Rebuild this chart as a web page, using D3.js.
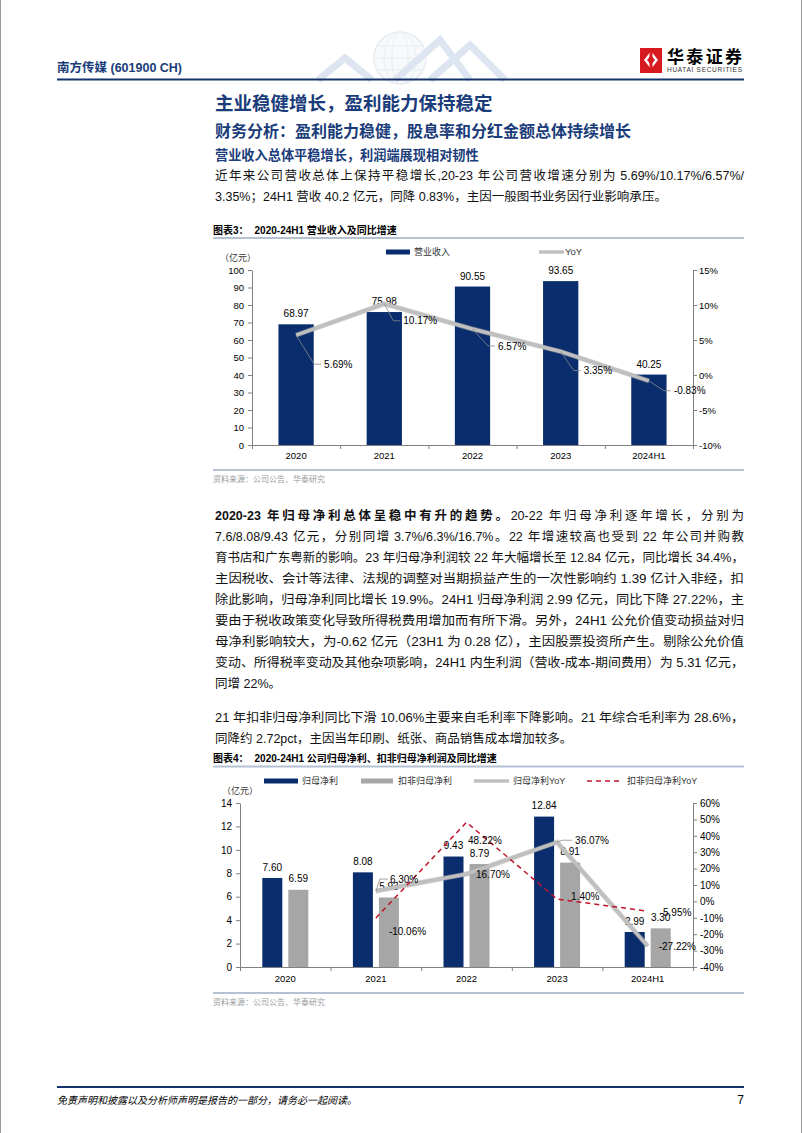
<!DOCTYPE html>
<html>
<head>
<meta charset="utf-8">
<script src="https://cdn.jsdelivr.net/npm/d3@7"></script>
<style>
  body { margin: 0; background: #fff; }
  svg { display: block; }
  text { font-family: 'Liberation Sans', 'Noto Sans CJK SC', sans-serif; }
</style>
</head>
<body>
<svg id="page" width="802" height="1133"></svg>
<script>
// ---------- data ----------
const years = ['2020', '2021', '2022', '2023', '2024H1']

// 图表3
const revenue = [68.97, 75.98, 90.55, 93.65, 40.25]
const revenueYoY = [5.69, 10.17, 6.57, 3.35, -0.83]
const revTicks = [0, 10, 20, 30, 40, 50, 60, 70, 80, 90, 100]
const revYoYTicks = [-10, -5, 0, 5, 10, 15]

// 图表4
const netProfit = [7.60, 8.08, 9.43, 12.84, 2.99]
const deductProfit = [6.59, 5.93, 8.79, 8.91, 3.30]
const netYoY = [null, 6.30, 16.70, 36.07, -27.22]
const deductYoY = [null, -10.06, 48.22, 1.40, -5.95]
const profitTicks = [0, 2, 4, 6, 8, 10, 12, 14]
const profitYoYTicks = [-40, -30, -20, -10, 0, 10, 20, 30, 40, 50, 60]

// texts
const introLines = [
    '近年来公司营收总体上保持平稳增长,20-23 年公司营收增速分别为 5.69%/10.17%/6.57%/',
    '3.35%；24H1 营收 40.2 亿元，同降 0.83%，主因一般图书业务因行业影响承压。'
]
const para2Lead = '2020-23 年归母净利总体呈稳中有升的趋势。'
const para2Lines = [
    '20-22 年归母净利逐年增长，分别为',
    '7.6/8.08/9.43 亿元，分别同增 3.7%/6.3%/16.7%。22 年增速较高也受到 22 年公司并购教',
    '育书店和广东粤新的影响。23 年归母净利润较 22 年大幅增长至 12.84 亿元，同比增长 34.4%，',
    '主因税收、会计等法律、法规的调整对当期损益产生的一次性影响约 1.39 亿计入非经，扣',
    '除此影响，归母净利同比增长 19.9%。24H1 归母净利润 2.99 亿元，同比下降 27.22%，主',
    '要由于税收政策变化导致所得税费用增加而有所下滑。另外，24H1 公允价值变动损益对归',
    '母净利影响较大，为-0.62 亿元（23H1 为 0.28 亿），主因股票投资所产生。剔除公允价值',
    '变动、所得税率变动及其他杂项影响，24H1 内生利润（营收-成本-期间费用）为 5.31 亿元，',
    '同增 22%。'
]
const para3Lines = [
    '21 年扣非归母净利同比下滑 10.06%主要来自毛利率下降影响。21 年综合毛利率为 28.6%，',
    '同降约 2.72pct，主因当年印刷、纸张、商品销售成本增加较多。'
]

// ---------- colours / layout ----------
const NAVY = '#0a2d6e'
const HEAD = '#1a3c7a'
const GRAY_BAR = '#a6a6a6'
const GRAY_LINE = '#bfbfbf'
const RED = '#c0142c'
const RULE = '#b3c1d3'
const AXIS = '#808080'
const LEFT = 215, RIGHT = 744

const svg = d3.select('#page')

function hline(x1, x2, y, color, w) {
    svg.append('line')
        .attr('x1', x1).attr('x2', x2).attr('y1', y).attr('y2', y)
        .attr('stroke', color).attr('stroke-width', w)
}

function txt(x, y, s, size, opts = {}) {
    const t = svg.append('text')
        .attr('x', x).attr('y', y).attr('dy', '0.36em')
        .attr('font-size', size)
        .attr('fill', opts.fill || '#000')
        .attr('font-weight', opts.bold ? 'bold' : null)
        .attr('text-anchor', opts.anchor || 'start')
        .attr('font-style', opts.italic ? 'italic' : null)
        .text(s)
    if (opts.len) t.attr('textLength', opts.len).attr('lengthAdjust', 'spacing')
    return t
}

// ---------- page frame / header ----------
svg.append('line').attr('x1', 0.5).attr('x2', 0.5).attr('y1', 0).attr('y2', 1133).attr('stroke', '#9a9a9a')
svg.append('line').attr('x1', 801.5).attr('x2', 801.5).attr('y1', 0).attr('y2', 1133).attr('stroke', '#9a9a9a')

// decorative globe + chevrons
const deco = svg.append('g').attr('opacity', 0.4)
deco.append('circle').attr('cx', 400).attr('cy', 58).attr('r', 26)
    .attr('fill', '#eef2f7').attr('stroke', '#c9d3e0').attr('stroke-width', 1.5)
;[8, 16].forEach(rx => deco.append('ellipse').attr('cx', 400).attr('cy', 58).attr('rx', rx).attr('ry', 26)
    .attr('fill', 'none').attr('stroke', '#c9d3e0'))
;[46, 58, 70].forEach(y => deco.append('line').attr('x1', 376).attr('x2', 424).attr('y1', y).attr('y2', y)
    .attr('stroke', '#c9d3e0'))
const chev = [[[318, 80], [345, 58], [372, 80]], [[395, 80], [440, 40], [470, 80]], [[430, 80], [470, 45], [505, 80]]]
chev.forEach(p => deco.append('polyline').attr('points', p.join(' '))
    .attr('fill', 'none').attr('stroke', '#a9bfdc').attr('stroke-width', 7))

txt(57, 67, '南方传媒 (601900 CH)', 12.5, {bold: true, fill: HEAD})

// logo
svg.append('rect').attr('x', 640).attr('y', 48).attr('width', 22).attr('height', 25).attr('fill', '#d71920')
svg.append('polygon').attr('points', '651,51 658,60 651,69 644,60').attr('fill', '#fff')
svg.append('polygon').attr('points', '651,55 655,60 651,65 647,60').attr('fill', '#d71920')
svg.append('rect').attr('x', 649.5).attr('y', 48).attr('width', 3).attr('height', 25).attr('fill', '#d71920')
txt(667, 57, '华泰证券', 17, {bold: true, len: 75})
txt(667, 70, 'HUATAI SECURITIES', 6.5, {len: 75, fill: '#333'})

hline(57, RIGHT, 79.5, '#15336b', 2.2)

// ---------- headings / intro ----------
txt(LEFT, 103, '主业稳健增长，盈利能力保持稳定', 18.5, {bold: true, fill: HEAD})
txt(LEFT, 131, '财务分析：盈利能力稳健，股息率和分红金额总体持续增长', 16, {bold: true, fill: HEAD})
txt(LEFT, 155, '营业收入总体平稳增长，利润端展现相对韧性', 13.2, {bold: true, fill: HEAD})

// justify: CJK glyphs and latin runs are spaced apart, latin runs stay tight
const tokenRe = /[\u3000-\u303f\u4e00-\u9fff\uff00-\uffef]|[^\u3000-\u303f\u4e00-\u9fff\uff00-\uffef]+/g
function paragraph(lines, y0, step, lead) {
    lines.forEach((s, i) => {
        const last = i === lines.length - 1
        const t = svg.append('text')
            .attr('x', LEFT).attr('y', y0 + i * step).attr('dy', '0.36em')
            .attr('font-size', 12.5).attr('fill', '#111')
            .style('white-space', 'pre')
        const segs = (i === 0 && lead) ? [[lead, true], [s, false]] : [[s, false]]
        const spans = []
        segs.forEach(([str, bold]) => {
            str.match(tokenRe).forEach(tok => {
                spans.push(t.append('tspan').attr('font-weight', bold ? 'bold' : null).text(tok))
            })
        })
        const widths = spans.map(sp => sp.node().getComputedTextLength())
        const total = d3.sum(widths)
        if (last) return
        const gap = (RIGHT - LEFT - total) / (spans.length - 1)
        if (gap < 1.2) {
            // nearly full line: let the browser squeeze / spread the whole line
            t.attr('textLength', RIGHT - LEFT).attr('lengthAdjust', 'spacingAndGlyphs')
            return
        }
        let x = LEFT
        spans.forEach((sp, k) => {
            sp.attr('x', x)
            x += widths[k] + gap
        })
    })
}
paragraph(introLines, 175, 21)

// ---------- chart frame helper ----------
function chartFrame(title, yTitle, yRule, yBottom) {
    const t = svg.append('text').attr('x', 213).attr('y', yTitle).attr('dy', '0.36em')
        .attr('font-size', 10).attr('font-weight', 'bold')
    t.append('tspan').text('图表' + title[0] + '：')
    t.append('tspan').attr('dx', 6).text(title[1])
    hline(213, RIGHT, yRule, RULE, 2)
    hline(213, RIGHT, yBottom, RULE, 2)
    txt(213, yBottom + 9, '资料来源：公司公告、华泰研究', 8, {fill: '#9a9a9a'})
}

function styleAxis(g, size) {
    g.selectAll('path.domain').attr('stroke', AXIS)
    g.selectAll('.tick line').attr('stroke', AXIS)
    g.selectAll('.tick text').attr('fill', '#000').attr('font-size', size)
        .attr('font-family', "'Liberation Sans', sans-serif")
    g.attr('font-family', null)
}

function leader(points) {
    svg.append('polyline').attr('points', points.map(p => p.join(',')).join(' '))
        .attr('fill', 'none').attr('stroke', '#8c8c8c').attr('stroke-width', 0.8)
}

// ---------- 图表3 ----------
chartFrame(['3', '2020-24H1 营业收入及同比增速'], 230, 238, 470)

const c3 = {left: 252, right: 693, top: 270, bottom: 445}
const x3 = d3.scaleBand().domain(years).range([c3.left, c3.right])
const x3bar = d3.scaleBand().domain(years).range([c3.left, c3.right]).paddingInner(0.6).paddingOuter(0.3)
const y3 = d3.scaleLinear().domain([0, 100]).range([c3.bottom, c3.top])
const y3r = d3.scaleLinear().domain([-10, 15]).range([c3.bottom, c3.top])
const cx3 = d => x3(d) + x3.bandwidth() / 2

// legend
svg.append('rect').attr('x', 386).attr('y', 249.5).attr('width', 24).attr('height', 5).attr('fill', NAVY)
txt(414, 252, '营业收入', 9, {fill: '#333'})
hline(539, 564, 252, GRAY_LINE, 3.5)
txt(565, 252, 'YoY', 9.5, {fill: '#333'})
txt(220, 258, '（亿元）', 9, {fill: '#333'})

svg.append('g').selectAll('rect').data(years).join('rect')
    .attr('x', d => x3bar(d)).attr('width', x3bar.bandwidth())
    .attr('y', (d, i) => y3(revenue[i])).attr('height', (d, i) => y3(0) - y3(revenue[i]))
    .attr('fill', NAVY)

const ax3l = svg.append('g').attr('transform', `translate(${c3.left},0)`)
    .call(d3.axisLeft(y3).tickValues(revTicks).tickSize(4).tickSizeOuter(0).tickPadding(4))
styleAxis(ax3l, 9.5)
const ax3r = svg.append('g').attr('transform', `translate(${c3.right},0)`)
    .call(d3.axisRight(y3r).tickValues(revYoYTicks).tickFormat(d => d + '%').tickSize(4).tickSizeOuter(0).tickPadding(2))
styleAxis(ax3r, 9.5)
const ax3b = svg.append('g').attr('transform', `translate(0,${c3.bottom})`)
    .call(d3.axisBottom(x3).tickSize(0).tickPadding(7))
styleAxis(ax3b, 9.5)
const edge3 = d3.scaleLinear().domain([0, years.length]).range([c3.left, c3.right])
const ax3e = svg.append('g').attr('transform', `translate(0,${c3.bottom})`)
    .call(d3.axisBottom(edge3).tickValues(d3.range(years.length + 1)).tickFormat('').tickSize(4).tickSizeOuter(0))
ax3e.select('path.domain').remove()
styleAxis(ax3e, 9)

// bar labels
years.forEach((d, i) => txt(cx3(d), y3(revenue[i]) - 10.5, revenue[i].toFixed(2), 10, {anchor: 'middle'}))

// YoY line
const line3 = d3.line().x((d, i) => cx3(years[i])).y(d => y3r(d))
svg.append('path').datum(revenueYoY).attr('d', line3)
    .attr('fill', 'none').attr('stroke', '#a8a8a8').attr('stroke-width', 5).attr('opacity', 0.5)
svg.append('path').datum(revenueYoY).attr('d', line3)
    .attr('fill', 'none').attr('stroke', GRAY_LINE).attr('stroke-width', 3.5)

const yoy3Offsets = [[28, 29], [19, 17], [25.5, 17], [23, 19], [25, 10]]
revenueYoY.forEach((v, i) => {
    const px = cx3(years[i]), py = y3r(v)
    const lx = px + yoy3Offsets[i][0], ly = py + yoy3Offsets[i][1]
    leader([[px, py], [lx - 10, ly], [lx - 3, ly]])
    txt(lx, ly, v.toFixed(2) + '%', 10)
})

// ---------- paragraphs ----------
paragraph(para2Lines, 515, 21, para2Lead)
paragraph(para3Lines, 717, 21)

// ---------- 图表4 ----------
chartFrame(['4', '2020-24H1 公司归母净利、扣非归母净利润及同比增速'], 758, 766.5, 993)

const c4 = {left: 240, right: 693, top: 803, bottom: 967}
const x4 = d3.scaleBand().domain(years).range([c4.left, c4.right])
const cx4 = d => x4(d) + x4.bandwidth() / 2
const sub4 = d3.scaleBand().domain(['net', 'deduct']).range([-23, 23]).paddingInner(0.2308)
const y4 = d3.scaleLinear().domain([0, 14]).range([c4.bottom, c4.top])
const y4r = d3.scaleLinear().domain([-40, 60]).range([c4.bottom, c4.top])

// legend
svg.append('rect').attr('x', 264).attr('y', 778.5).attr('width', 34).attr('height', 5).attr('fill', NAVY)
txt(302, 781, '归母净利', 9, {fill: '#333'})
svg.append('rect').attr('x', 361).attr('y', 778.5).attr('width', 32).attr('height', 5).attr('fill', GRAY_BAR)
txt(398, 781, '扣非归母净利', 9, {fill: '#333'})
hline(474, 509, 781, GRAY_LINE, 3.5)
txt(513, 781, '归母净利YoY', 9, {fill: '#333'})
svg.append('line').attr('x1', 587).attr('x2', 622).attr('y1', 781).attr('y2', 781)
    .attr('stroke', RED).attr('stroke-width', 1.5).attr('stroke-dasharray', '5,4')
txt(627, 781, '扣非归母净利YoY', 9, {fill: '#333'})
txt(222, 791, '（亿元）', 9, {fill: '#333'})

const series4 = [['net', netProfit, NAVY], ['deduct', deductProfit, GRAY_BAR]]
series4.forEach(([key, vals, color]) => {
    svg.append('g').selectAll('rect').data(years).join('rect')
        .attr('x', d => cx4(d) + sub4(key)).attr('width', sub4.bandwidth())
        .attr('y', (d, i) => y4(vals[i])).attr('height', (d, i) => y4(0) - y4(vals[i]))
        .attr('fill', color)
})

const ax4l = svg.append('g').attr('transform', `translate(${c4.left},0)`)
    .call(d3.axisLeft(y4).tickValues(profitTicks).tickSize(4).tickSizeOuter(0).tickPadding(4))
styleAxis(ax4l, 10)
const ax4r = svg.append('g').attr('transform', `translate(${c4.right},0)`)
    .call(d3.axisRight(y4r).tickValues(profitYoYTicks).tickFormat(d => d + '%').tickSize(4).tickSizeOuter(0).tickPadding(3))
styleAxis(ax4r, 10)
const ax4b = svg.append('g').attr('transform', `translate(0,${c4.bottom})`)
    .call(d3.axisBottom(x4).tickSize(0).tickPadding(8))
styleAxis(ax4b, 9.5)
const edge4 = d3.scaleLinear().domain([0, years.length]).range([c4.left, c4.right])
const ax4e = svg.append('g').attr('transform', `translate(0,${c4.bottom})`)
    .call(d3.axisBottom(edge4).tickValues(d3.range(years.length + 1)).tickFormat('').tickSize(4).tickSizeOuter(0))
ax4e.select('path.domain').remove()
styleAxis(ax4e, 9)

series4.forEach(([key, vals]) => {
    years.forEach((d, i) => txt(cx4(d) + sub4(key) + sub4.bandwidth() / 2, y4(vals[i]) - 11,
        vals[i].toFixed(2), 10, {anchor: 'middle'}))
})

const line4 = d3.line().defined(d => d != null).x((d, i) => cx4(years[i])).y(d => y4r(d))
svg.append('path').datum(netYoY).attr('d', line4)
    .attr('fill', 'none').attr('stroke', '#a8a8a8').attr('stroke-width', 5).attr('opacity', 0.5)
svg.append('path').datum(netYoY).attr('d', line4)
    .attr('fill', 'none').attr('stroke', GRAY_LINE).attr('stroke-width', 3.5)
svg.append('path').datum(deductYoY).attr('d', line4)
    .attr('fill', 'none').attr('stroke', RED).attr('stroke-width', 1.5).attr('stroke-dasharray', '5,4')

const netYoYOffsets = [null, [14, -12], [9.5, 0], [18, -2], [11, 0.5]]
const deductYoYOffsets = [null, [13, 14], [1.5, 18], [14, -3], [12, 1]]
netYoY.forEach((v, i) => {
    if (v == null) return
    const px = cx4(years[i]), py = y4r(v)
    const lx = px + netYoYOffsets[i][0], ly = py + netYoYOffsets[i][1]
    if (i === 1) leader([[px, py], [px + 4, ly], [lx - 2, ly]])
    if (i === 3) leader([[px, py], [px + 5, ly], [lx - 3, ly]])
    txt(lx, ly, v.toFixed(2) + '%', 10)
})
deductYoY.forEach((v, i) => {
    if (v == null) return
    const px = cx4(years[i]), py = y4r(v)
    txt(px + deductYoYOffsets[i][0], py + deductYoYOffsets[i][1], v.toFixed(2) + '%', 10)
})

// ---------- footer ----------
hline(57, RIGHT, 1087, '#15336b', 2.2)
txt(57, 1100, '免责声明和披露以及分析师声明是报告的一部分，请务必一起阅读。', 10, {italic: true})
txt(RIGHT, 1100, '7', 12, {anchor: 'end'})
</script>
</body>
</html>
